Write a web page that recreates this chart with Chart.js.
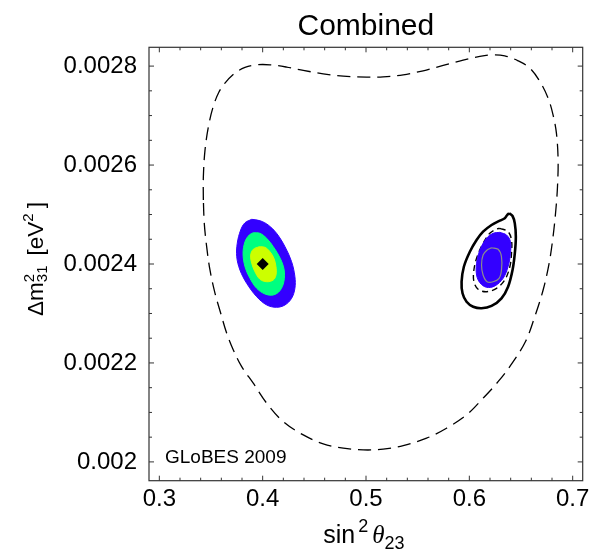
<!DOCTYPE html>
<html>
<head>
<meta charset="utf-8">
<script src="https://cdn.jsdelivr.net/npm/chart.js@4.4.1/dist/chart.umd.min.js"></script>
<style>
  html, body { margin: 0; padding: 0; background: #fff; }
  #plot { display: block; }
</style>
</head>
<body>
<canvas id="plot" width="607" height="549"></canvas>
<script>
// axis ticks
const xTicks = [0.3, 0.4, 0.5, 0.6, 0.7];
const xTickLabels = ['0.3', '0.4', '0.5', '0.6', '0.7'];
const yTicks = [0.002, 0.0022, 0.0024, 0.0026, 0.0028];
const yTickLabels = ['0.002', '0.0022', '0.0024', '0.0026', '0.0028'];

// contours as [sin^2 theta23, dm^2_31] pairs
const outerDashed = [
  [0.3426, 0.0025293], [0.3426, 0.0025764], [0.3442, 0.0026303], [0.3476, 0.0026788],
  [0.3522, 0.0027186], [0.3577, 0.0027475], [0.3635, 0.0027657], [0.3732, 0.0027859],
  [0.3829, 0.0027974], [0.3942, 0.0028026], [0.4071, 0.0028026], [0.4232, 0.0027980],
  [0.4393, 0.0027913], [0.4586, 0.0027844], [0.4780, 0.0027798], [0.5006, 0.0027778],
  [0.5166, 0.0027784], [0.5360, 0.0027824], [0.5553, 0.0027905], [0.5747, 0.0028014],
  [0.5940, 0.0028121], [0.6102, 0.0028196], [0.6230, 0.0028228], [0.6343, 0.0028208],
  [0.6472, 0.0028107], [0.6585, 0.0027960], [0.6682, 0.0027691], [0.6762, 0.0027354],
  [0.6810, 0.0027016], [0.6843, 0.0026640], [0.6859, 0.0026101], [0.6853, 0.0025562],
  [0.6837, 0.0025091], [0.6810, 0.0024552], [0.6772, 0.0024014], [0.6714, 0.0023475],
  [0.6633, 0.0022935], [0.6546, 0.0022444], [0.6416, 0.0022000], [0.6280, 0.0021626],
  [0.6133, 0.0021287], [0.5973, 0.0020950], [0.5779, 0.0020681], [0.5586, 0.0020479],
  [0.5360, 0.0020329], [0.5166, 0.0020257], [0.4973, 0.0020242], [0.4780, 0.0020277],
  [0.4586, 0.0020364], [0.4393, 0.0020545], [0.4199, 0.0020814], [0.4039, 0.0021186],
  [0.3909, 0.0021590], [0.3797, 0.0021925], [0.3716, 0.0022263], [0.3652, 0.0022600],
  [0.3594, 0.0023004], [0.3539, 0.0023408], [0.3490, 0.0023879], [0.3458, 0.0024350],
  [0.3435, 0.0024822]
];

const leftBlue = [
  [0.3894, 0.0024903], [0.3974, 0.0024875], [0.4054, 0.0024788], [0.4135, 0.0024620],
  [0.4216, 0.0024350], [0.4280, 0.0024046], [0.4312, 0.0023743], [0.4312, 0.0023509],
  [0.4280, 0.0023307], [0.4216, 0.0023172], [0.4135, 0.0023125], [0.4039, 0.0023172],
  [0.3942, 0.0023339], [0.3845, 0.0023610], [0.3780, 0.0023879], [0.3749, 0.0024147],
  [0.3754, 0.0024418], [0.3787, 0.0024687], [0.3829, 0.0024834]
];

const leftGreen = [
  [0.3909, 0.0024632], [0.3974, 0.0024620], [0.4039, 0.0024519], [0.4103, 0.0024350],
  [0.4170, 0.0024115], [0.4208, 0.0023879], [0.4205, 0.0023642], [0.4167, 0.0023461],
  [0.4103, 0.0023374], [0.4022, 0.0023394], [0.3942, 0.0023509], [0.3877, 0.0023711],
  [0.3829, 0.0023945], [0.3810, 0.0024216], [0.3829, 0.0024451], [0.3870, 0.0024586]
];

const leftYellow = [
  [0.3967, 0.0024350], [0.4022, 0.0024337], [0.4071, 0.0024248], [0.4109, 0.0024115],
  [0.4129, 0.0023945], [0.4129, 0.0023778], [0.4103, 0.0023677], [0.4039, 0.0023642],
  [0.3974, 0.0023691], [0.3925, 0.0023844], [0.3894, 0.0024014], [0.3884, 0.0024182],
  [0.3909, 0.0024297]
];

const bestFit = [[0.4, 0.0024]];

const rightSolid = [
  [0.6385, 0.0025024], [0.6418, 0.0024970], [0.6440, 0.0024822], [0.6450, 0.0024552],
  [0.6440, 0.0024216], [0.6418, 0.0023879], [0.6375, 0.0023541], [0.6311, 0.0023307],
  [0.6215, 0.0023152], [0.6118, 0.0023105], [0.6037, 0.0023137], [0.5973, 0.0023238],
  [0.5934, 0.0023408], [0.5925, 0.0023642], [0.5947, 0.0023945], [0.6005, 0.0024248],
  [0.6070, 0.0024485], [0.6133, 0.0024653], [0.6215, 0.0024788], [0.6295, 0.0024875],
  [0.6343, 0.0024923], [0.6366, 0.0024990]
];

const rightDashed = [
  [0.6295, 0.0024721], [0.6375, 0.0024653], [0.6408, 0.0024485], [0.6408, 0.0024216],
  [0.6392, 0.0023945], [0.6343, 0.0023677], [0.6263, 0.0023509], [0.6166, 0.0023440],
  [0.6085, 0.0023489], [0.6044, 0.0023642], [0.6044, 0.0023879], [0.6075, 0.0024147],
  [0.6133, 0.0024418], [0.6198, 0.0024620], [0.6263, 0.0024707]
];

const rightBlue = [
  [0.6295, 0.0024640], [0.6360, 0.0024586], [0.6398, 0.0024451], [0.6398, 0.0024216],
  [0.6375, 0.0023945], [0.6327, 0.0023711], [0.6247, 0.0023556], [0.6166, 0.0023529],
  [0.6102, 0.0023622], [0.6070, 0.0023778], [0.6070, 0.0024014], [0.6102, 0.0024283],
  [0.6166, 0.0024519], [0.6230, 0.0024620]
];

const rightGray = [
  [0.6215, 0.0024329], [0.6279, 0.0024297], [0.6311, 0.0024147], [0.6311, 0.0023879],
  [0.6288, 0.0023711], [0.6230, 0.0023642], [0.6172, 0.0023642], [0.6133, 0.0023778],
  [0.6118, 0.0023980], [0.6133, 0.0024182], [0.6172, 0.0024283]
];

const SANS = '"Liberation Sans", Arial, Helvetica, sans-serif';
const SERIF = '"Liberation Serif", "Times New Roman", serif';

function ring(pairs) {
  const pts = pairs.map(p => ({ x: p[0], y: p[1] }));
  pts.push({ x: pairs[0][0], y: pairs[0][1] });
  return pts;
}

function region(pairs, color, order) {
  return {
    data: ring(pairs), showLine: true, pointRadius: 0, tension: 0.35,
    fill: 'shape', backgroundColor: color, borderColor: color, borderWidth: 1, order: order
  };
}

function contour(pairs, color, width, dash, order) {
  return {
    data: ring(pairs), showLine: true, pointRadius: 0, tension: 0.35,
    fill: false, borderColor: color, borderWidth: width, borderDash: dash, order: order
  };
}

// draws a row of text pieces (with raised / lowered scripts) starting at x
function runsWidth(ctx, runs) {
  let w = 0;
  for (const r of runs) {
    if (r.gap) { w += r.gap; continue; }
    ctx.font = r.font;
    if (!r.stack) w += ctx.measureText(r.text).width;
  }
  return w;
}
function drawRuns(ctx, runs, x, y) {
  for (const r of runs) {
    if (r.gap) { x += r.gap; continue; }
    ctx.font = r.font;
    ctx.fillText(r.text, x, y + (r.dy || 0));
    if (!r.stack) x += ctx.measureText(r.text).width;
  }
}

const decor = {
  id: 'decor',
  afterDatasetsDraw(chart) {
    const { ctx, chartArea: a, scales: { x, y } } = chart;
    ctx.save();
    ctx.strokeStyle = '#333';
    ctx.lineWidth = 1.2;
    ctx.strokeRect(a.left, a.top, a.right - a.left, a.bottom - a.top);
    ctx.lineWidth = 1;
    ctx.beginPath();
    // minor ticks every 0.02 in x, every 0.00005 in y; inward on all sides
    for (let k = 15; k <= 35; k++) {
      const px = x.getPixelForValue(k * 0.02);
      const len = k % 5 === 0 ? 5 : 3;
      ctx.moveTo(px, a.bottom); ctx.lineTo(px, a.bottom - len);
      ctx.moveTo(px, a.top); ctx.lineTo(px, a.top + len);
    }
    for (let k = 40; k <= 56; k++) {
      const py = y.getPixelForValue(k * 0.00005);
      const len = k % 4 === 0 ? 5 : 3;
      ctx.moveTo(a.left, py); ctx.lineTo(a.left + len, py);
      ctx.moveTo(a.right, py); ctx.lineTo(a.right - len, py);
    }
    ctx.stroke();
    ctx.restore();
  },
  afterDraw(chart) {
    const { ctx, chartArea: a } = chart;
    const cx = (a.left + a.right) / 2;
    ctx.save();
    ctx.fillStyle = '#000';
    ctx.textBaseline = 'alphabetic';

    ctx.textAlign = 'center';
    ctx.font = '30px ' + SANS;
    ctx.fillText('Combined', cx, a.top - 12.6);

    ctx.textAlign = 'left';
    ctx.font = '19px ' + SANS;
    ctx.fillText('GLoBES 2009', a.left + 16, a.bottom - 17.4);

    // sin^2 theta_23
    const xRuns = [
      { text: 'sin', font: '25px ' + SANS },
      { gap: 3 },
      { text: '2', font: '18px ' + SANS, dy: -11.6 },
      { gap: 4 },
      { text: 'θ', font: 'italic 25px ' + SERIF },
      { text: '23', font: '18px ' + SANS, dy: 5.7 }
    ];
    drawRuns(ctx, xRuns, cx - runsWidth(ctx, xRuns) / 2 - 2, a.bottom + 62.6);

    // Delta m^2_31 [eV^2], rotated
    const yRuns = [
      { text: 'Δm', font: '22.5px ' + SANS },
      { text: '2', font: '15px ' + SANS, dy: -8.5, stack: true },
      { text: '31', font: '15px ' + SANS, dy: 4 },
      { gap: 10 },
      { text: '[eV', font: '22.5px ' + SANS },
      { text: '2', font: '15px ' + SANS, dy: -10 },
      { gap: 5 },
      { text: ']', font: '22.5px ' + SANS }
    ];
    ctx.translate(42.7, (a.top + a.bottom) / 2 - 5);
    ctx.rotate(-Math.PI / 2);
    drawRuns(ctx, yRuns, -runsWidth(ctx, yRuns) / 2, 0);
    ctx.restore();
  }
};

new Chart(document.getElementById('plot'), {
  type: 'scatter',
  data: {
    datasets: [
      {
        data: ring(bestFit).slice(0, 1), pointStyle: 'rectRot', pointRadius: 6,
        backgroundColor: '#000', borderColor: '#000', borderWidth: 0, order: 0
      },
      contour(rightGray, '#8c8c8c', 1.2, [], 1),
      region(rightBlue, '#3300ff', 2),
      contour(rightDashed, '#000', 1.4, [6, 4], 3),
      contour(rightSolid, '#000', 2.6, [], 3),
      region(leftYellow, '#ccff00', 2),
      region(leftGreen, '#00ff80', 3),
      region(leftBlue, '#3300ff', 4),
      contour(outerDashed, '#000', 1.3, [13, 7], 5)
    ]
  },
  options: {
    responsive: false,
    animation: false,
    events: [],
    layout: { padding: { left: 0, right: 24.3, top: 47.3, bottom: 0 } },
    plugins: { legend: { display: false }, tooltip: { enabled: false }, title: { display: false } },
    scales: {
      x: {
        type: 'linear', min: 0.29, max: 0.7097,
        afterBuildTicks: s => { s.ticks = xTicks.map(v => ({ value: v })); },
        afterFit: s => { s.height = 68.3; },
        grid: { display: false, drawTicks: false },
        border: { display: false },
        ticks: {
          autoSkip: false, maxRotation: 0, padding: 4, color: '#000',
          font: { family: SANS, size: 24 },
          callback: (v, i) => xTickLabels[i]
        }
      },
      y: {
        type: 'linear', min: 0.001962, max: 0.002838,
        afterBuildTicks: s => { s.ticks = yTicks.map(v => ({ value: v })); },
        afterFit: s => { s.width = 149; },
        grid: { display: false, drawTicks: false },
        border: { display: false },
        ticks: {
          autoSkip: false, padding: 12, color: '#000',
          font: { family: SANS, size: 24 },
          callback: (v, i) => yTickLabels[i]
        }
      }
    }
  },
  plugins: [decor]
});
</script>
</body>
</html>
